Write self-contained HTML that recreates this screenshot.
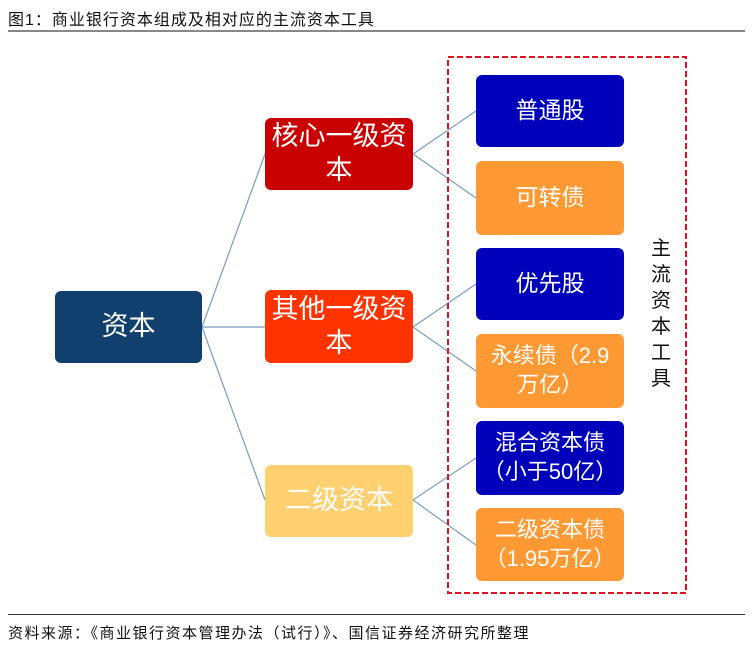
<!DOCTYPE html>
<html><head><meta charset="utf-8"><style>
body{margin:0;width:753px;height:651px;background:#fff;position:relative;font-family:"Liberation Sans","Noto Sans CJK SC",sans-serif;overflow:hidden}
.t{position:absolute;left:8px;top:6px;font-size:16px;color:#111;letter-spacing:1px}
.b{position:absolute;border-radius:6px;color:#fff;display:flex;align-items:center;justify-content:center;text-align:center;line-height:1.3}
</style></head><body>
<div class="t">图1：商业银行资本组成及相对应的主流资本工具</div>
<div style="position:absolute;left:8px;top:30px;width:737px;height:2px;background:#888"></div>
<svg style="position:absolute;left:0;top:0" width="753" height="651">
<g stroke="#7b9cc0" stroke-width="1.2" fill="none">
<path d="M202 327 L265 154 M202 327 L265 327 M202 327 L265 500"/>
<path d="M413 154 L476 111 M413 154 L476 198"/>
<path d="M413 327 L476 284 M413 327 L476 371"/>
<path d="M413 500 L476 458 M413 500 L476 545"/>
</g>
<rect x="448" y="57" width="238" height="536" fill="none" stroke="#e0141e" stroke-width="2" stroke-dasharray="6,3"/>
</svg>
<div class="b" style="left:55px;top:291px;width:147px;height:72px;background:#11406e;font-size:27px">资本</div>
<div class="b" style="left:265px;top:118px;width:148px;height:72px;background:#c80000;font-size:27px;line-height:1.25">核心一级资<br>本</div>
<div class="b" style="left:265px;top:290px;width:148px;height:73px;background:#ff3300;font-size:27px;line-height:1.25">其他一级资<br>本</div>
<div class="b" style="left:265px;top:465px;width:148px;height:72px;background:#ffd070;font-size:27px">二级资本</div>
<div class="b" style="left:476px;top:75px;width:148px;height:72px;background:#0000bb;font-size:23px">普通股</div>
<div class="b" style="left:476px;top:161px;width:148px;height:74px;background:#ff9933;font-size:23px">可转债</div>
<div class="b" style="left:476px;top:248px;width:148px;height:72px;background:#0000bb;font-size:23px">优先股</div>
<div class="b" style="left:476px;top:334px;width:148px;height:74px;background:#ff9933;font-size:22px">永续债（2.9<br>万亿）</div>
<div class="b" style="left:476px;top:421px;width:148px;height:74px;background:#0000bb;font-size:22px">混合资本债<br>（小于50亿）</div>
<div class="b" style="left:476px;top:508px;width:148px;height:73px;background:#ff9933;font-size:22px">二级资本债<br>（1.95万亿）</div>
<div style="position:absolute;left:648px;top:236px;width:26px;font-size:20px;line-height:26px;color:#111;text-align:center">主流资本工具</div>
<div style="position:absolute;left:8px;top:614px;width:737px;height:1px;background:#333"></div>
<div style="position:absolute;left:8px;top:622px;font-size:15px;color:#111;letter-spacing:1.5px">资料来源：《商业银行资本管理办法（试行）》、国信证券经济研究所整理</div>
</body></html>
